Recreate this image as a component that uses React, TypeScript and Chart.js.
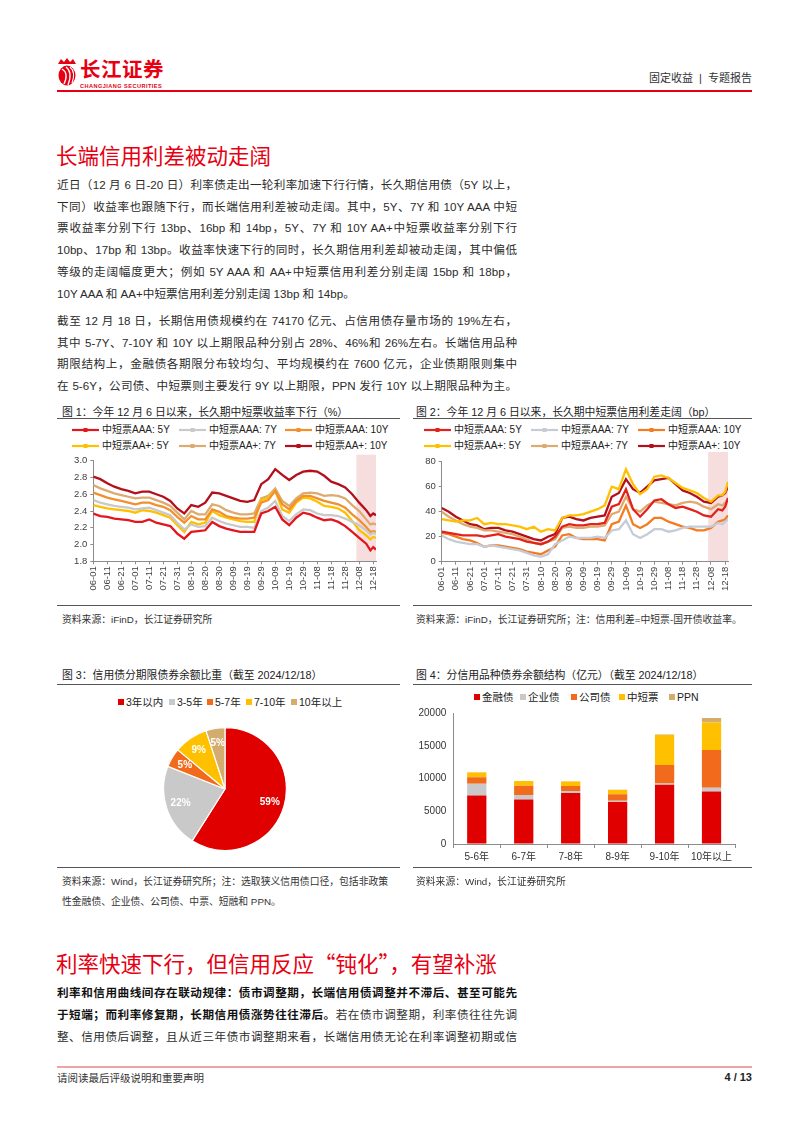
import React, { useEffect, useRef } from "react";
import { Chart, registerables } from "chart.js";
Chart.register(...registerables);

const FONT = '"Liberation Sans", "Noto Sans CJK SC", sans-serif';
const CJK = '"Noto Sans CJK SC", sans-serif';
Chart.defaults.font.family = FONT;
Chart.defaults.color = "#404040";

// ---------- data ----------
const DATES = [
  "06-01", "06-06", "06-11", "06-16", "06-21", "06-26", "07-01", "07-06", "07-11", "07-16",
  "07-21", "07-26", "07-31", "08-05", "08-10", "08-15", "08-20", "08-25", "08-30", "09-04",
  "09-09", "09-14", "09-19", "09-24", "09-29", "10-04", "10-09", "10-14", "10-19", "10-24",
  "10-29", "11-03", "11-08", "11-13", "11-18", "11-23", "11-28", "12-03", "12-08", "12-13",
  "12-16", "12-18", "12-20",
];
const TICK_DATES = [
  "06-01", "06-11", "06-21", "07-01", "07-11", "07-21", "07-31", "08-10", "08-20", "08-30",
  "09-09", "09-19", "09-29", "10-09", "10-19", "10-29", "11-08", "11-18", "11-28", "12-08", "12-18",
];
const SHADE_START = "12-06";

const SERIES_NAMES = ["中短票AAA: 5Y", "中短票AAA: 7Y", "中短票AAA: 10Y", "中短票AA+: 5Y", "中短票AA+: 7Y", "中短票AA+: 10Y"];

// Fig.1 yields (%)
const YIELD_AAA_5Y = [2.37, 2.34, 2.33, 2.31, 2.30, 2.29, 2.27, 2.27, 2.30, 2.26, 2.24, 2.22, 2.13, 2.07, 2.15, 2.16, 2.17, 2.27, 2.22, 2.19, 2.17, 2.15, 2.15, 2.15, 2.37, 2.40, 2.45, 2.30, 2.23, 2.32, 2.38, 2.36, 2.32, 2.29, 2.30, 2.27, 2.22, 2.15, 2.08, 2.01, 1.93, 1.97, 1.94];
const YIELD_AAA_7Y = [2.53, 2.50, 2.48, 2.46, 2.45, 2.44, 2.42, 2.43, 2.44, 2.41, 2.38, 2.35, 2.26, 2.18, 2.24, 2.21, 2.22, 2.32, 2.28, 2.25, 2.23, 2.21, 2.21, 2.20, 2.40, 2.44, 2.52, 2.34, 2.28, 2.36, 2.42, 2.41, 2.37, 2.35, 2.35, 2.34, 2.31, 2.27, 2.23, 2.17, 2.12, 2.14, 2.13];
const YIELD_AAA_10Y = [2.62, 2.59, 2.56, 2.54, 2.52, 2.50, 2.48, 2.50, 2.50, 2.47, 2.45, 2.41, 2.33, 2.26, 2.34, 2.30, 2.30, 2.42, 2.39, 2.34, 2.32, 2.31, 2.31, 2.32, 2.50, 2.53, 2.64, 2.48, 2.42, 2.52, 2.58, 2.58, 2.55, 2.52, 2.50, 2.48, 2.44, 2.36, 2.29, 2.21, 2.15, 2.16, 2.15];
const YIELD_AAP_5Y = [2.47, 2.45, 2.43, 2.42, 2.41, 2.40, 2.38, 2.41, 2.40, 2.38, 2.35, 2.32, 2.23, 2.15, 2.27, 2.24, 2.26, 2.40, 2.35, 2.32, 2.30, 2.28, 2.27, 2.27, 2.53, 2.56, 2.64, 2.42, 2.38, 2.50, 2.56, 2.55, 2.51, 2.46, 2.45, 2.43, 2.38, 2.28, 2.17, 2.11, 2.06, 2.09, 2.08];
const YIELD_AAP_7Y = [2.71, 2.67, 2.64, 2.61, 2.59, 2.57, 2.55, 2.56, 2.56, 2.53, 2.50, 2.46, 2.38, 2.30, 2.40, 2.36, 2.36, 2.48, 2.46, 2.41, 2.38, 2.36, 2.36, 2.37, 2.55, 2.58, 2.67, 2.52, 2.46, 2.55, 2.61, 2.62, 2.61, 2.58, 2.59, 2.58, 2.55, 2.47, 2.40, 2.30, 2.24, 2.25, 2.24];
const YIELD_AAP_10Y = [2.81, 2.78, 2.73, 2.69, 2.66, 2.64, 2.61, 2.63, 2.63, 2.60, 2.57, 2.52, 2.43, 2.37, 2.47, 2.45, 2.50, 2.62, 2.61, 2.58, 2.55, 2.52, 2.51, 2.53, 2.72, 2.78, 2.90, 2.83, 2.77, 2.83, 2.87, 2.88, 2.87, 2.82, 2.75, 2.72, 2.68, 2.60, 2.50, 2.41, 2.34, 2.37, 2.35];

// Fig.2 spreads (bp)
const SPREAD_AAA_5Y = [24, 23, 22, 21, 21, 21, 20, 21, 22, 20, 19, 18, 16, 15, 14, 16, 20, 28, 30, 29, 29, 30, 30, 31, 44, 46, 58, 42, 36, 42, 49, 50, 46, 43, 44, 42, 40, 37, 36, 42, 41, 44, 51];
const SPREAD_AAA_7Y = [21, 18, 16, 15, 14, 14, 12, 13, 12, 11, 10, 9, 7, 5, 4, 6, 14, 17, 20, 19, 19, 19, 20, 19, 25, 26, 33, 22, 19, 22, 26, 26, 24, 25, 27, 28, 28, 28, 28, 31, 30, 32, 34];
const SPREAD_AAA_10Y = [23, 22, 20, 18, 17, 15, 12, 13, 13, 12, 11, 10, 8, 7, 6, 9, 12, 21, 22, 19, 18, 18, 18, 17, 30, 32, 45, 30, 27, 30, 35, 35, 32, 30, 28, 27, 25, 25, 27, 32, 33, 34, 37];
const SPREAD_AAP_5Y = [34, 33, 32, 33, 33, 35, 30, 31, 30, 30, 29, 28, 26, 28, 24, 26, 25, 35, 37, 37, 38, 40, 42, 45, 60, 58, 74, 62, 54, 58, 68, 69, 67, 63, 59, 57, 55, 51, 48, 53, 53, 56, 64];
const SPREAD_AAP_7Y = [40, 36, 33, 30, 28, 27, 25, 25, 24, 23, 22, 20, 18, 15, 14, 16, 18, 27, 28, 27, 27, 28, 28, 29, 38, 40, 52, 42, 40, 45, 48, 47, 46, 45, 47, 48, 47, 44, 42, 46, 45, 47, 50];
const SPREAD_AAP_10Y = [43, 40, 36, 33, 30, 29, 26, 27, 27, 25, 24, 22, 20, 18, 17, 20, 22, 35, 36, 34, 33, 35, 36, 37, 52, 55, 66, 58, 55, 60, 65, 66, 67, 62, 57, 55, 52, 48, 47, 52, 53, 55, 60];

// Fig.3 pie
const PIE_LABELS = ["3年以内", "3-5年", "5-7年", "7-10年", "10年以上"];
const PIE_VALUES = [59, 22, 5, 9, 5];

// Fig.4 stacked bars (亿元)
const BAR_CATEGORIES = ["5-6年", "6-7年", "7-8年", "8-9年", "9-10年", "10年以上"];
const BAR_SERIES_NAMES = ["金融债", "企业债", "公司债", "中短票", "PPN"];
const BAR_FIN = [7400, 6800, 7800, 6400, 9050, 8000];
const BAR_ENT = [1800, 700, 300, 200, 200, 600];
const BAR_CORP = [1000, 1400, 750, 1000, 2800, 5750];
const BAR_MTN = [700, 700, 700, 650, 4600, 4200];
const BAR_PPN = [50, 30, 20, 20, 50, 700];

// ---------- styling ----------
const RED = "#E60012";
const AXIS = "#8c8c8c";
const SHADE = "#F7DEDE";
const LINE1_COLORS = ["#E3161E", "#C9C9C9", "#F2902F", "#FFC000", "#DDAB70", "#B3101C"];
const LINE2_COLORS = ["#E3221C", "#C6CBD6", "#F47B20", "#FFC000", "#DDAB70", "#B3101C"];
const PIE_COLORS = ["#E00000", "#C9C9C9", "#F26B1D", "#FFC000", "#D4AC6E"];
const BAR_COLORS = ["#E00000", "#C9C9C9", "#F26B1D", "#FFC000", "#D4AC6E"];

const MONTH_START: Record<number, number> = { 6: 0, 7: 30, 8: 61, 9: 92, 10: 122, 11: 153, 12: 183 };
function dayIndex(md: string) {
  const [m, d] = md.split("-").map(Number);
  return MONTH_START[m] + d - 1;
}

type Geo = { yWidth: number; xHeight: number; padTop: number; padRight: number };

function LineChartBox(props: {
  left: number; top: number; width: number; height: number;
  series: number[][]; colors: string[]; yMin: number; yMax: number; yStep: number;
  decimals: number; geo: Geo; shadeExtra: number;
}) {
  const ref = useRef<HTMLCanvasElement>(null);
  useEffect(() => {
    const { series, colors, yMin, yMax, yStep, decimals, geo, shadeExtra } = props;
    const shade = {
      id: "shade",
      beforeDraw(chart: any) {
        const { ctx, chartArea, scales } = chart;
        const x0 = scales.x.getPixelForValue(dayIndex(SHADE_START));
        ctx.save();
        ctx.fillStyle = SHADE;
        ctx.fillRect(x0, chartArea.top - shadeExtra, chartArea.right - x0, chartArea.bottom - chartArea.top + shadeExtra);
        ctx.restore();
      },
    };
    const chart = new Chart(ref.current as HTMLCanvasElement, {
      type: "line",
      data: {
        datasets: series.map((vals, i) => ({
          label: SERIES_NAMES[i],
          data: DATES.map((d, j) => ({ x: dayIndex(d), y: vals[j] })),
          borderColor: colors[i],
          backgroundColor: colors[i],
          borderWidth: 2.3,
          pointRadius: 0,
          tension: 0,
        })),
      },
      options: {
        animation: false,
        responsive: false,
        maintainAspectRatio: false,
        layout: { padding: { top: geo.padTop, right: geo.padRight, left: 0, bottom: 0 } },
        plugins: { legend: { display: false }, tooltip: { enabled: false } },
        scales: {
          x: {
            type: "linear",
            min: 0,
            max: dayIndex(DATES[DATES.length - 1]),
            afterBuildTicks: (s: any) => {
              s.ticks = TICK_DATES.map((d) => ({ value: dayIndex(d) }));
            },
            afterFit: (s: any) => {
              s.height = geo.xHeight;
            },
            ticks: {
              autoSkip: false,
              minRotation: 90,
              maxRotation: 90,
              padding: 2,
              font: { size: 9.5 },
              color: "#404040",
              callback: (v: any) => TICK_DATES.find((d) => dayIndex(d) === v) ?? "",
            },
            grid: { drawOnChartArea: false, drawTicks: true, tickLength: 3, color: AXIS },
            border: { color: AXIS },
          },
          y: {
            min: yMin,
            max: yMax,
            afterFit: (s: any) => {
              s.width = geo.yWidth;
            },
            ticks: {
              stepSize: yStep,
              padding: 3,
              font: { size: 9.5 },
              color: "#404040",
              callback: (v: any) => Number(v).toFixed(decimals),
            },
            grid: { drawOnChartArea: false, drawTicks: true, tickLength: 3, color: AXIS },
            border: { color: AXIS },
          },
        },
      } as any,
      plugins: [shade],
    });
    return () => chart.destroy();
  }, []);
  return (
    <canvas
      ref={ref}
      width={props.width}
      height={props.height}
      style={{ position: "absolute", left: props.left, top: props.top, width: props.width, height: props.height }}
    />
  );
}

function PieChartBox(props: { left: number; top: number; size: number }) {
  const ref = useRef<HTMLCanvasElement>(null);
  useEffect(() => {
    const labels = {
      id: "pieLabels",
      afterDatasetsDraw(chart: any) {
        const { ctx } = chart;
        const meta = chart.getDatasetMeta(0);
        const total = PIE_VALUES.reduce((a, b) => a + b, 0);
        ctx.save();
        ctx.fillStyle = "#ffffff";
        ctx.font = `bold 10px ${FONT}`;
        ctx.textAlign = "center";
        ctx.textBaseline = "middle";
        meta.data.forEach((arc: any, i: number) => {
          const p = arc.getProps(["x", "y", "startAngle", "endAngle", "outerRadius"], true);
          const mid = (p.startAngle + p.endAngle) / 2;
          const r = p.outerRadius * 0.76;
          ctx.fillText(`${Math.round((PIE_VALUES[i] / total) * 100)}%`, p.x + Math.cos(mid) * r, p.y + Math.sin(mid) * r);
        });
        ctx.restore();
      },
    };
    const chart = new Chart(ref.current as HTMLCanvasElement, {
      type: "pie",
      data: {
        labels: PIE_LABELS,
        datasets: [{ data: PIE_VALUES, backgroundColor: PIE_COLORS, borderColor: "#ffffff", borderWidth: 1.2 }],
      },
      options: {
        animation: false,
        responsive: false,
        maintainAspectRatio: false,
        layout: { padding: 3 },
        plugins: { legend: { display: false }, tooltip: { enabled: false } },
      },
      plugins: [labels],
    });
    return () => chart.destroy();
  }, []);
  return (
    <canvas
      ref={ref}
      width={props.size}
      height={props.size}
      style={{ position: "absolute", left: props.left, top: props.top, width: props.size, height: props.size }}
    />
  );
}

function BarChartBox(props: { left: number; top: number; width: number; height: number }) {
  const ref = useRef<HTMLCanvasElement>(null);
  useEffect(() => {
    const stacks = [BAR_FIN, BAR_ENT, BAR_CORP, BAR_MTN, BAR_PPN];
    const chart = new Chart(ref.current as HTMLCanvasElement, {
      type: "bar",
      data: {
        labels: BAR_CATEGORIES,
        datasets: stacks.map((vals, i) => ({
          label: BAR_SERIES_NAMES[i],
          data: vals,
          backgroundColor: BAR_COLORS[i],
          barPercentage: 0.41,
          categoryPercentage: 1,
        })),
      },
      options: {
        animation: false,
        responsive: false,
        maintainAspectRatio: false,
        layout: { padding: { top: 9.3, right: 15, left: 0, bottom: 0 } },
        plugins: { legend: { display: false }, tooltip: { enabled: false } },
        scales: {
          x: {
            stacked: true,
            afterFit: (s: any) => {
              s.height = 24;
            },
            ticks: { font: { size: 10 }, color: "#333", padding: 3, minRotation: 0, maxRotation: 0, autoSkip: false },
            grid: { drawOnChartArea: false, drawTicks: true, tickLength: 4, color: AXIS },
            border: { color: AXIS },
          },
          y: {
            stacked: true,
            min: 0,
            max: 20000,
            afterFit: (s: any) => {
              s.width = 48.3;
            },
            ticks: { stepSize: 5000, font: { size: 10 }, color: "#333", padding: 7, callback: (v: any) => String(v) },
            grid: { drawOnChartArea: false, drawTicks: false },
            border: { color: AXIS },
          },
        },
      } as any,
    });
    return () => chart.destroy();
  }, []);
  return (
    <canvas
      ref={ref}
      width={props.width}
      height={props.height}
      style={{ position: "absolute", left: props.left, top: props.top, width: props.width, height: props.height }}
    />
  );
}

// ---------- text helpers ----------
function T(props: {
  x: number; y: number; size: number; children: React.ReactNode; color?: string; bold?: boolean;
  right?: boolean; lh?: number; style?: React.CSSProperties;
}) {
  const lh = props.lh ?? props.size * 1.4;
  return (
    <div
      style={{
        position: "absolute",
        left: props.right ? undefined : props.x,
        right: props.right ? 802 - props.x : undefined,
        top: props.y - lh / 2,
        fontSize: props.size,
        lineHeight: `${lh}px`,
        whiteSpace: "nowrap",
        color: props.color ?? "#222",
        fontWeight: props.bold ? 700 : 400,
        ...props.style,
      }}
    >
      {props.children}
    </div>
  );
}

function JLine(props: { y: number; children: React.ReactNode; last?: boolean; color?: string }) {
  const size = 11.6;
  const lh = 18;
  return (
    <div
      style={{
        position: "absolute",
        left: 57,
        top: props.y - lh / 2,
        width: 460,
        fontSize: size,
        lineHeight: `${lh}px`,
        whiteSpace: "nowrap",
        textAlign: "justify",
        textAlignLast: props.last ? "left" : "justify",
        color: props.color ?? "#2b2b2b",
      }}
    >
      {props.children}
    </div>
  );
}

function HLine(props: { x1: number; x2: number; y: number; color?: string; h?: number }) {
  return (
    <div
      style={{
        position: "absolute",
        left: props.x1,
        top: props.y,
        width: props.x2 - props.x1,
        height: props.h ?? 1,
        background: props.color ?? "#555",
      }}
    />
  );
}

function LineLegend(props: { cols: number[]; rows: number[]; colors: string[] }) {
  return (
    <>
      {SERIES_NAMES.map((name, i) => {
        const x = props.cols[i % 3];
        const y = props.rows[Math.floor(i / 3)];
        return (
          <div key={name} style={{ position: "absolute", left: x, top: y - 7, height: 14, display: "flex", alignItems: "center" }}>
            <svg width={27} height={8} style={{ display: "block" }}>
              <line x1={0} y1={4} x2={27} y2={4} stroke={props.colors[i]} strokeWidth={2.2} />
              <rect x={11.5} y={2} width={4} height={4} fill={props.colors[i]} />
            </svg>
            <span style={{ fontSize: 10, marginLeft: 3, color: "#222", lineHeight: "14px" }}>{name}</span>
          </div>
        );
      })}
    </>
  );
}

function BoxLegend(props: { names: string[]; colors: string[]; xs: number[]; y: number }) {
  return (
    <>
      {props.names.map((name, i) => (
        <div key={name} style={{ position: "absolute", left: props.xs[i], top: props.y - 7, height: 14, display: "flex", alignItems: "center" }}>
          <div style={{ width: 6, height: 6, background: props.colors[i] }} />
          <span style={{ fontSize: 10.5, marginLeft: 2, color: "#222", lineHeight: "14px" }}>{name}</span>
        </div>
      ))}
    </>
  );
}

export default function App() {
  return (
    <div
      style={{
        position: "absolute",
        left: 0,
        top: 0,
        width: 802,
        height: 1133,
        background: "#fff",
        fontFamily: FONT,
        overflow: "hidden",
      }}
    >
      {/* header */}
      <svg width={24} height={30} style={{ position: "absolute", left: 55, top: 57 }}>
        <path d="M3 7 L6 2 L9 5 L12 1 L15 5 L18 2 L21 7 Z" fill={RED} />
        <ellipse cx={12} cy={18.5} rx={8.5} ry={10} fill={RED} />
        <path d="M7 12 Q14 16 9 27" stroke="#fff" strokeWidth={1.3} fill="none" />
        <path d="M11 10 Q18 15 13 28" stroke="#fff" strokeWidth={1.3} fill="none" />
        <path d="M15 10 Q21 15 17 26" stroke="#fff" strokeWidth={1.1} fill="none" />
      </svg>
      <T x={80} y={69.5} size={20.5} lh={22} bold color={RED} style={{ letterSpacing: 0.5 }}>
        长江证券
      </T>
      <T x={80} y={85.5} size={5.6} lh={6} bold color={RED} style={{ letterSpacing: 0.45 }}>
        CHANGJIANG SECURITIES
      </T>
      <T x={752} y={79} size={11} right color="#333">
        固定收益{"\u00a0\u00a0"}|{"\u00a0\u00a0"}专题报告
      </T>
      <HLine x1={57} x2={752} y={90} h={2} color={RED} />

      {/* section 1 */}
      <T x={56} y={157} size={21.5} color={RED}>
        长端信用利差被动走阔
      </T>
      <JLine y={185}>近日（12 月 6 日-20 日）利率债走出一轮利率加速下行行情，长久期信用债（5Y 以上，</JLine>
      <JLine y={206.7}>下同）收益率也跟随下行，而长端信用利差被动走阔。其中，5Y、7Y 和 10Y AAA 中短</JLine>
      <JLine y={228.4}>票收益率分别下行 13bp、16bp 和 14bp，5Y、7Y 和 10Y AA+中短票收益率分别下行</JLine>
      <JLine y={250.1}>10bp、17bp 和 13bp。收益率快速下行的同时，长久期信用利差却被动走阔，其中偏低</JLine>
      <JLine y={271.8}>等级的走阔幅度更大；例如 5Y AAA 和 AA+中短票信用利差分别走阔 15bp 和 18bp，</JLine>
      <JLine y={293.5} last>10Y AAA 和 AA+中短票信用利差分别走阔 13bp 和 14bp。</JLine>

      <JLine y={321}>截至 12 月 18 日，长期信用债规模约在 74170 亿元、占信用债存量市场的 19%左右，</JLine>
      <JLine y={342.7}>其中 5-7Y、7-10Y 和 10Y 以上期限品种分别占 28%、46%和 26%左右。长端信用品种</JLine>
      <JLine y={364.4}>期限结构上，金融债各期限分布较均匀、平均规模约在 7600 亿元，企业债期限则集中</JLine>
      <JLine y={386.1}>在 5-6Y，公司债、中短票则主要发行 9Y 以上期限，PPN 发行 10Y 以上期限品种为主。</JLine>

      {/* figure 1 */}
      <T x={62} y={413} size={10.8}>图 1：今年 12 月 6 日以来，长久期中短票收益率下行（%）</T>
      <HLine x1={57} x2={400} y={418} />
      <LineLegend cols={[72, 179, 285]} rows={[429.5, 445.5]} colors={LINE1_COLORS} />
      <LineChartBox
        left={50}
        top={452}
        width={340}
        height={150}
        series={[YIELD_AAA_5Y, YIELD_AAA_7Y, YIELD_AAA_10Y, YIELD_AAP_5Y, YIELD_AAP_7Y, YIELD_AAP_10Y]}
        colors={LINE1_COLORS}
        yMin={1.8}
        yMax={3.0}
        yStep={0.2}
        decimals={1}
        geo={{ yWidth: 43.3, xHeight: 40.7, padTop: 7.3, padRight: 14 }}
        shadeExtra={6}
      />
      <HLine x1={57} x2={400} y={605} />
      <T x={62} y={620} size={9.8} color="#333">资料来源：iFinD，长江证券研究所</T>

      {/* figure 2 */}
      <T x={416} y={413} size={10.8}>图 2：今年 12 月 6 日以来，长久期中短票信用利差走阔（bp）</T>
      <HLine x1={413} x2={752} y={418} />
      <LineLegend cols={[424, 531, 638]} rows={[429.5, 446]} colors={LINE2_COLORS} />
      <LineChartBox
        left={405}
        top={452}
        width={340}
        height={150}
        series={[SPREAD_AAA_5Y, SPREAD_AAA_7Y, SPREAD_AAA_10Y, SPREAD_AAP_5Y, SPREAD_AAP_7Y, SPREAD_AAP_10Y]}
        colors={LINE2_COLORS}
        yMin={0}
        yMax={80}
        yStep={20}
        decimals={0}
        geo={{ yWidth: 36.7, xHeight: 40.3, padTop: 9.7, padRight: 17 }}
        shadeExtra={10}
      />
      <HLine x1={413} x2={752} y={605} />
      <T x={416} y={620} size={9.8} color="#333">资料来源：iFinD，长江证券研究所；注：信用利差=中短票-国开债收益率。</T>

      {/* figure 3 */}
      <T x={62} y={676} size={10.8}>图 3：信用债分期限债券余额比重（截至 2024/12/18）</T>
      <HLine x1={57} x2={400} y={684} />
      <BoxLegend names={PIE_LABELS} colors={PIE_COLORS} xs={[118, 169, 207, 246, 291]} y={702} />
      <PieChartBox left={160} top={724} size={130} />
      <HLine x1={57} x2={400} y={867} />
      <T x={62} y={882} size={9.8} color="#333">资料来源：Wind，长江证券研究所；注：选取狭义信用债口径，包括非政策</T>
      <T x={62} y={902} size={9.8} color="#333">性金融债、企业债、公司债、中票、短融和 PPN。</T>

      {/* figure 4 */}
      <T x={416} y={676} size={10.8}>图 4：分信用品种债券余额结构（亿元）（截至 2024/12/18）</T>
      <HLine x1={413} x2={752} y={684} />
      <BoxLegend names={BAR_SERIES_NAMES} colors={BAR_COLORS} xs={[474, 520, 571, 619, 669]} y={697} />
      <BarChartBox left={405} top={700} width={345} height={168} />
      <HLine x1={413} x2={752} y={867} />
      <T x={416} y={882} size={9.8} color="#333">资料来源：Wind，长江证券研究所</T>

      {/* section 2 */}
      <T x={56} y={963} size={21.5} color={RED}>
        利率快速下行，但信用反应<span style={{ fontFamily: CJK }}>“</span>钝化<span style={{ fontFamily: CJK }}>”</span>，有望补涨
      </T>
      <JLine y={993} color="#111">
        <b>利率和信用曲线间存在联动规律：债市调整期，长端信用债调整并不滞后、甚至可能先</b>
      </JLine>
      <JLine y={1015} color="#111">
        <b>于短端；而利率修复期，长期信用债涨势往往滞后。</b>
        <span style={{ color: "#333" }}>若在债市调整期，利率债往往先调</span>
      </JLine>
      <JLine y={1037}>整、信用债后调整，且从近三年债市调整期来看，长端信用债无论在利率调整初期或信</JLine>

      {/* footer */}
      <HLine x1={57} x2={752} y={1066} h={1.5} color="#EFA3A9" />
      <T x={57} y={1078} size={10.5} color="#333">请阅读最后评级说明和重要声明</T>
      <T x={752} y={1078} size={11} bold right color="#222">
        4 / 13
      </T>
    </div>
  );
}
